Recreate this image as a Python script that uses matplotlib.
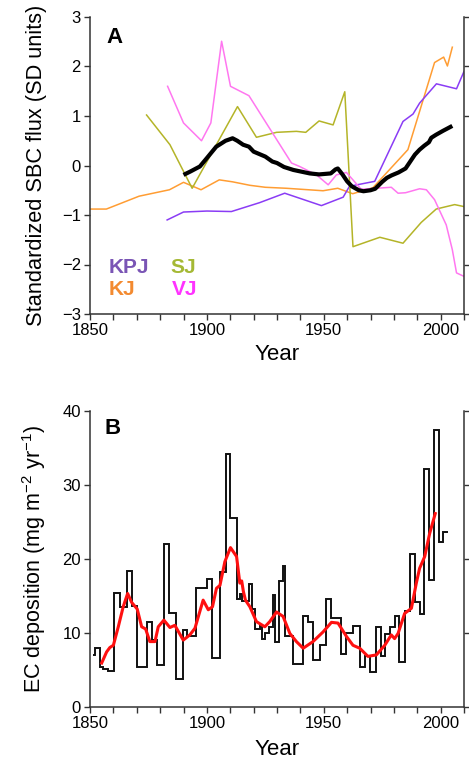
import matplotlib
matplotlib.use("Agg")
import matplotlib.pyplot as plt

plt.rcParams['font.family'] = ['Liberation Sans', 'DejaVu Sans']
plt.rcParams['mathtext.default'] = 'regular'

# ---- Panel A data (standardized SBC flux) ----
kpj_years = [1883, 1890, 1900, 1910.5, 1922.6, 1933.3, 1949, 1958.3, 1961, 1971.8,
             1983.9, 1988.2, 1991, 1998.2, 2006.8, 2010]
kpj_vals = [-1.10, -0.94, -0.92, -0.93, -0.75, -0.56, -0.81, -0.64, -0.42, -0.32,
            0.89, 1.04, 1.26, 1.65, 1.55, 1.90]

kj_years = [1850, 1857, 1871, 1884, 1890, 1897.5, 1905.3, 1911, 1918.4, 1925, 1934,
            1949.7, 1956, 1962.4, 1971, 1986, 1997.4, 2001.3, 2002.9, 2005]
kj_vals = [-0.88, -0.88, -0.62, -0.49, -0.34, -0.49, -0.29, -0.33, -0.40, -0.44, -0.46,
           -0.51, -0.46, -0.57, -0.45, 0.32, 2.08, 2.19, 2.01, 2.39]

sj_years = [1874.2, 1884.2, 1893.7, 1913.1, 1921.2, 1929.8, 1938.3, 1942.3, 1948, 1954,
            1959, 1962.5, 1974, 1983.9, 1991.7, 1998.1, 2006, 2010]
sj_vals = [1.02, 0.42, -0.46, 1.19, 0.57, 0.67, 0.69, 0.67, 0.90, 0.82,
           1.49, -1.64, -1.45, -1.57, -1.15, -0.88, -0.79, -0.83]

vj_years = [1883.2, 1890, 1897.7, 1901.7, 1906.3, 1910.1, 1918, 1936.2, 1939.7, 1946.9,
            1951.9, 1955.4, 1959.7, 1966, 1978.9, 1981.8, 1985, 1991, 1993.9, 1997.4,
            2002.4, 2005, 2006.8, 2010]
vj_vals = [1.60, 0.86, 0.50, 0.86, 2.51, 1.60, 1.41, 0.05, -0.02, -0.19,
           -0.39, -0.19, -0.14, -0.48, -0.44, -0.56, -0.55, -0.47, -0.49, -0.69,
           -1.20, -1.70, -2.17, -2.24]

mean_years = [1890, 1893, 1897, 1900, 1904, 1908, 1911, 1913, 1915.5, 1918, 1920, 1922,
              1925, 1928, 1930, 1933, 1937, 1940, 1944, 1948, 1953, 1955, 1956, 1958,
              1960, 1962, 1965, 1967, 1970, 1972, 1975, 1977, 1979, 1982, 1985, 1987,
              1989, 1991, 1993, 1995, 1996, 1998, 2001, 2005]
mean_vals = [-0.19, -0.12, -0.02, 0.15, 0.38, 0.50, 0.55, 0.50, 0.42, 0.38, 0.28, 0.24,
             0.18, 0.08, 0.05, -0.03, -0.09, -0.12, -0.16, -0.18, -0.16, -0.08, -0.06, -0.18,
             -0.32, -0.42, -0.50, -0.52, -0.50, -0.47, -0.33, -0.25, -0.20, -0.14, -0.06, 0.08,
             0.22, 0.32, 0.40, 0.47, 0.56, 0.62, 0.70, 0.80]

# ---- Panel B data (EC deposition) ----
ec_edges = [1851.4, 1852.1, 1854.3, 1855.7, 1857.8, 1860.4, 1862.8, 1865.7, 1868.1, 1870.2,
            1874.2, 1876.4, 1878.8, 1881.8, 1883.8, 1886.6, 1889.9, 1891.6, 1895.3, 1899.9,
            1902.3, 1905.8, 1908.0, 1909.8, 1912.7, 1914.1, 1915.2, 1917.9, 1919.4, 1920.8,
            1922.6, 1923.6, 1924.8, 1926.5, 1928.3, 1929.1, 1930.8, 1932.6, 1933.6, 1936.9,
            1941.2, 1943.3, 1945.4, 1948.3, 1950.9, 1953.3, 1957.5, 1959.7, 1962.3, 1965.4,
            1967.8, 1969.7, 1972.5, 1974.5, 1976.4, 1978.2, 1980.6, 1982.2, 1984.9, 1986.8,
            1989.2, 1991.0, 1992.9, 1995.0, 1997.1, 1999.1, 2000.9, 2003.3]
ec_vals = [7.0, 7.9, 5.4, 5.1, 4.8, 15.4, 13.5, 18.4, 13.6, 5.3,
           11.4, 9.0, 5.7, 22.0, 12.7, 3.7, 10.4, 9.6, 16.1, 17.3,
           6.6, 18.2, 34.1, 25.5, 14.5, 15.2, 14.3, 16.6, 13.2, 10.5,
           11.0, 9.2, 10.0, 10.8, 15.1, 8.7, 17.0, 19.0, 9.5, 5.8,
           12.2, 11.4, 6.3, 8.3, 14.6, 12.0, 7.1, 9.9, 10.9, 5.3,
           6.9, 4.7, 10.8, 6.8, 9.8, 10.8, 12.2, 6.0, 13.0, 20.6,
           14.2, 12.5, 32.1, 17.1, 37.4, 22.3, 23.6]

smooth_years = [1855.0, 1857.1, 1858.5, 1860.0, 1862.1, 1864.2, 1866.1, 1867.8, 1870.2, 1872.1,
                1873.8, 1875.6, 1877.8, 1879.2, 1881.6, 1884.2, 1886.3, 1889.9, 1892.7, 1894.9,
                1898.4, 1900.6, 1902.4, 1904.1, 1905.6, 1907.7, 1910.1, 1912.7, 1914.1, 1914.9,
                1915.6, 1916.5, 1918.4, 1921.2, 1924.8, 1926.9, 1929.8, 1932.6, 1935.5, 1938.3,
                1941.2, 1945.4, 1949.7, 1953.3, 1956.1, 1959.7, 1962.5, 1965.4, 1968.9, 1972.5,
                1976.1, 1978.9, 1980.3, 1981.8, 1984.6, 1987.5, 1989.6, 1991.0, 1993.2, 1995.3,
                1997.7]
smooth_vals = [5.9, 7.4, 8.0, 8.3, 10.8, 13.5, 15.3, 14.1, 13.2, 10.8,
               10.5, 8.8, 8.8, 10.8, 11.7, 10.7, 11.0, 9.0, 9.7, 10.6,
               14.4, 13.1, 13.5, 16.0, 16.4, 19.6, 21.5, 20.3, 16.7, 17.0,
               15.6, 14.4, 13.5, 11.5, 10.8, 11.5, 12.8, 12.2, 9.9, 8.8,
               7.9, 8.8, 10.1, 11.4, 11.3, 9.5, 8.3, 7.9, 6.8, 7.0,
               8.3, 9.7, 9.2, 9.9, 12.6, 13.3, 16.7, 18.7, 20.3, 23.4,
               26.1]

x_ticks = list(range(1850, 2011, 10))
x_labels = ['1850', '', '', '', '', '1900', '', '', '', '', '1950', '', '', '', '', '2000', '']
a_yticks = [-3, -2, -1, 0, 1, 2, 3]
b_yticks = [0, 10, 20, 30, 40]

W, H = 469, 768
fig = plt.figure(figsize=(W / 100, H / 100), dpi=100)

axA = fig.add_axes([90 / W, 1 - 314 / H, 374 / W, 297 / H])
axB = fig.add_axes([90 / W, 1 - 706.7 / H, 374 / W, 296 / H])

spine_col = '#333333'
for ax in (axA, axB):
    ax.spines['top'].set_visible(False)
    for s in ('left', 'right', 'bottom'):
        ax.spines[s].set_color(spine_col)
        ax.spines[s].set_linewidth(1.1)
    ax.set_xlim(1850, 2010)
    ax.set_xticks(x_ticks)
    ax.set_xticklabels(x_labels)
    ax.tick_params(axis='both', direction='out', length=4.5, width=1.0, color=spine_col,
                   labelsize=12, pad=2)
    ax.tick_params(axis='y', right=True, labelright=False)

axA.set_xlabel('Year', fontsize=16, labelpad=4)
axB.set_xlabel('Year', fontsize=16, labelpad=6)

# Panel A
axA.plot(kj_years, kj_vals, color='#ff9d33', lw=1.1)
axA.plot(kpj_years, kpj_vals, color='#8a3cf5', lw=1.1)
axA.plot(sj_years, sj_vals, color='#b4b428', lw=1.1)
axA.plot(vj_years, vj_vals, color='#ff77f0', lw=1.1)
axA.plot(mean_years, mean_vals, color='black', lw=3.0, solid_capstyle='butt')
axA.set_ylim(-3, 3)
axA.set_yticks(a_yticks)
axA.set_ylabel('Standardized SBC flux (SD units)', fontsize=15.7, labelpad=11)
axA.text(0.045, 0.965, 'A', transform=axA.transAxes, fontsize=16, fontweight='bold',
         va='top', ha='left')
legend_items = [('KPJ', '#7a55b5', 0.05, 0.19), ('SJ', '#a5b935', 0.215, 0.19),
                ('KJ', '#f38a30', 0.05, 0.115), ('VJ', '#ff33ff', 0.22, 0.115)]
for name, col, lx, ly in legend_items:
    axA.text(lx, ly, name, transform=axA.transAxes, color=col, fontsize=15,
             fontweight='bold', va='top', ha='left')

# Panel B
axB.stairs(ec_vals, ec_edges, color='#111111', lw=1.4, baseline=None)
axB.plot(smooth_years, smooth_vals, color='#ff1010', lw=2.2)
axB.set_ylim(0, 40)
axB.set_yticks(b_yticks)
axB.set_ylabel('EC deposition (mg m$^{-2}$ yr$^{-1}$)', fontsize=15.5, labelpad=10)
axB.text(0.04, 0.975, 'B', transform=axB.transAxes, fontsize=16, fontweight='bold',
         va='top', ha='left')

fig.savefig('out.png', dpi=100)
